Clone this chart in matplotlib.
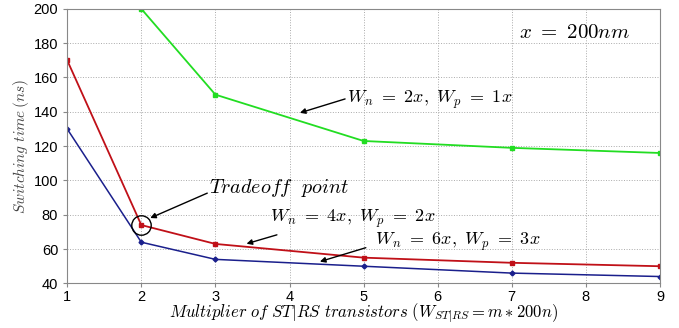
import matplotlib
matplotlib.use('Agg')
import matplotlib.pyplot as plt

plt.rcParams['mathtext.fontset'] = 'cm'
plt.rcParams['font.family'] = ['Liberation Sans', 'DejaVu Sans']

# multiplier values
m_green = [2, 3, 5, 7, 9]
t_green = [200, 150, 123, 119, 116]   # Wn=2x, Wp=1x
m_red = [1, 2, 3, 5, 7, 9]
t_red = [170, 74, 63, 55, 52, 50]     # Wn=4x, Wp=2x
m_blue = [1, 2, 3, 5, 7, 9]
t_blue = [130, 64, 54, 50, 46, 44]    # Wn=6x, Wp=3x

fig = plt.figure(figsize=(6.79, 3.28), dpi=100)
ax = fig.add_axes([0.099, 0.136, 0.873, 0.837])

ax.plot(m_green, t_green, color='#22dd22', lw=1.3, marker='s', ms=3)
ax.plot(m_red, t_red, color='#c01018', lw=1.3, marker='s', ms=3)
ax.plot(m_blue, t_blue, color='#1a1f8c', lw=1.1, marker='D', ms=2.5)

# circle round the tradeoff point
ax.plot(2, 74, 'o', ms=14, mfc='none', mec='k', mew=1.0)

ax.set_xlim(1, 9)
ax.set_ylim(40, 200)
ax.set_xticks(range(1, 10))
ax.set_yticks(range(40, 201, 20))
ax.grid(True, linestyle=':', color='#aaaaaa', lw=0.7)
for s in ax.spines.values():
    s.set_color('#888888')
ax.tick_params(labelsize=10.5, length=3, color='#888888')
ax.tick_params(axis='x', pad=1.5)

ax.set_xlabel(r'$Multiplier\ of\ ST|RS\ transistors\ (W_{ST|RS} = m*200n)$',
              fontsize=12, va='top')
ax.xaxis.set_label_coords(0.5, -0.068)
ax.set_ylabel(r'$Switching\ time\,(ns)$', fontsize=11, color='#444444', labelpad=2)

arrow = dict(arrowstyle='-|>', color='k', lw=1.0, mutation_scale=8, shrinkA=0, shrinkB=0)

ax.text(2.92, 95.5, r'$Tradeoff\ \ point$', fontsize=14.5, va='center')
ax.annotate('', xy=(2.12, 78.1), xytext=(2.89, 92.6), arrowprops=arrow)

ax.text(4.78, 146.9, r'$W_n\ =\ 2x,\ W_p\ =\ 1x$', fontsize=13, va='center')
ax.annotate('', xy=(4.14, 139.4), xytext=(4.75, 147.5), arrowprops=arrow)

ax.text(3.74, 77.5, r'$W_n\ =\ 4x,\ W_p\ =\ 2x$', fontsize=13, va='center')
ax.annotate('', xy=(3.42, 63.1), xytext=(3.83, 68.3), arrowprops=arrow)

ax.text(5.16, 64.3, r'$W_n\ =\ 6x,\ W_p\ =\ 3x$', fontsize=13, va='center')
ax.annotate('', xy=(4.41, 52.7), xytext=(5.03, 60.8), arrowprops=arrow)

ax.text(7.10, 186, r'$x\ =\ 200nm$', fontsize=15, va='center')

fig.savefig('out.png', dpi=100)
